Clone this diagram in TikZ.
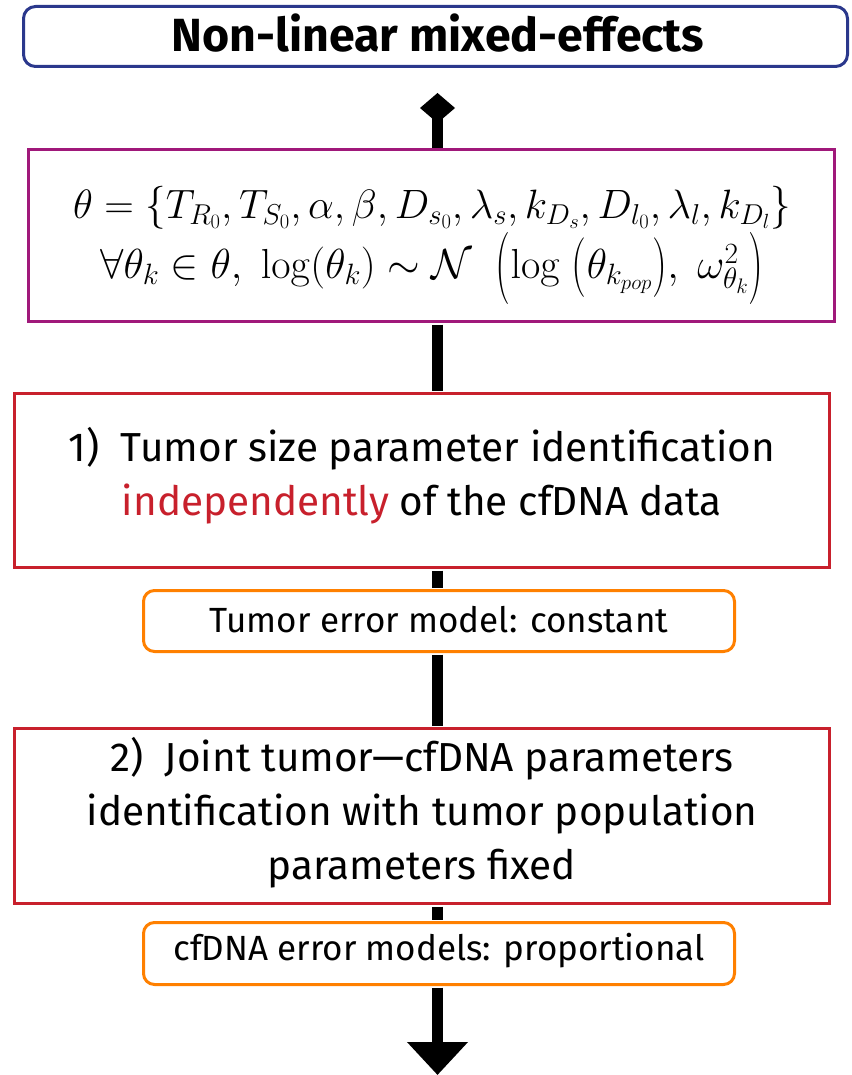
\RequirePackage{fix-cm}
\documentclass[tikz,border=0pt]{standalone}
\usepackage{amsmath}
\usepackage{graphicx}
\usepackage[no-math]{fontspec}
\setmainfont{Fira Sans}
\usetikzlibrary{arrows.meta}
\definecolor{tblue}{RGB}{43,56,140}
\definecolor{tpurple}{RGB}{160,24,122}
\definecolor{tred}{RGB}{200,32,44}
\definecolor{torange}{RGB}{255,128,0}
\newcommand\dopen[2]{\mathopen{\vcenter{\hbox{\scalebox{1}[#1]{$#2$}}}}}
\newcommand\dclose[2]{\mathclose{\vcenter{\hbox{\scalebox{1}[#1]{$#2$}}}}}
\tikzset{
  box/.style={draw, line width=3pt, fill=white, inner sep=0pt, align=center},
  titlebox/.style={box, draw=tblue, rounded corners=12pt},
  mathbox/.style={box, draw=tpurple},
  stepbox/.style={box, draw=tred},
  errbox/.style={box, draw=torange, rounded corners=11pt},
  stem/.style={line width=11pt, black},
  steptext/.style={inner sep=0pt, align=center, font=\fontsize{40.5}{54}\selectfont},
  errtext/.style={inner sep=0pt, font=\fontsize{35}{42}\selectfont},
  mtext/.style={inner sep=0pt, font=\fontsize{41}{46}\selectfont},
  mtextb/.style={inner sep=0pt, font=\fontsize{42}{46}\selectfont}
}
\begin{document}
\begin{tikzpicture}[x=1pt,y=-1pt]
\useasboundingbox (0,0) rectangle (851,1075);
\coordinate (spine) at (437.5,0);
\coordinate (tiptop) at (437.5,93);
\coordinate (tipbot) at (437.5,1075);
% boxes
\node[titlebox, minimum width=824pt, minimum height=60pt] (title) at (435.5,36.5) {};
\node[inner sep=0pt, font=\fontsize{46.5}{50}\selectfont\bfseries] (titletext) at (438,33) {Non-linear mixed-effects};
\node[mathbox, minimum width=806pt, minimum height=172pt] (param) at (431.5,235.5) {};
\node[mtext] (m1) at (432,208) {$\theta=\dopen{1.05}{\{}T_{R_0},T_{S_0},\alpha,\beta,D_{s_0},\lambda_s,k_{D_s},D_{l_0},\lambda_l,k_{D_l}\dclose{1.05}{\}}$};
\node[mtextb] (m2) at (432,268) {$\forall\theta_k\in\theta,\;\log(\theta_k)\sim\mathcal{N}\;\;\dopen{1.72}{(}\log\;\dopen{1.42}{(}\theta_{k_{pop}}\dclose{1.42}{)},\;\omega^2_{\theta_k}\dclose{1.72}{)}$};
\node[stepbox, minimum width=815pt, minimum height=174pt] (red1) at (422,480.5) {};
\node[steptext] (t1) at (422,476) {1)\ \ Tumor size parameter identification\\\textcolor{tred}{independently} of the cfDNA data};
\node[errbox, minimum width=591pt, minimum height=61pt] (or1) at (439,621) {};
\node[errtext] (e1) at (439,620) {Tumor error model: constant};
\node[stepbox, minimum width=815pt, minimum height=175pt] (red2) at (422,816) {};
\node[steptext] (t2) at (422,813) {2)\ \ Joint tumor—cfDNA parameters\\identification with tumor population\\parameters fixed};
\node[errbox, minimum width=591pt, minimum height=62pt] (or2) at (439,953.5) {};
\node[errtext] (e2) at (439,951) {cfDNA error models: proportional};
% connectors
\draw[stem, -{Diamond[length=30pt,width=35pt]}] (param.north -| spine) -- (tiptop);
\draw[stem, shorten <=1.5pt, shorten >=1.5pt] (param.south -| spine) -- (red1.north -| spine);
\draw[stem, shorten <=1.5pt, shorten >=1.5pt] (red1.south -| spine) -- (or1.north -| spine);
\draw[stem, shorten <=1.5pt, shorten >=1.5pt] (or1.south -| spine) -- (red2.north -| spine);
\draw[stem, shorten <=1.5pt, shorten >=1.5pt] (red2.south -| spine) -- (or2.north -| spine);
\draw[stem, shorten <=1.5pt, -{Triangle[length=33pt,width=59pt]}] (or2.south -| spine) -- (tipbot);
\end{tikzpicture}
\end{document}
